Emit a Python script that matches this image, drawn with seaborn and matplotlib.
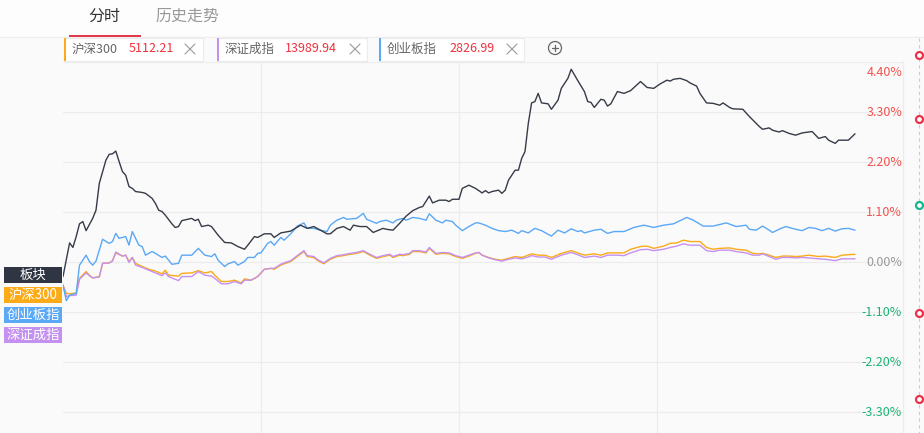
import numpy as np
import pandas as pd
import seaborn as sns
import matplotlib
matplotlib.use("Agg")
import matplotlib.pyplot as plt
from matplotlib.patches import Rectangle, Circle

# ---------------- data (minutes from open, % change) ----------------
board_t = [0, 2, 3, 4, 5, 6, 7, 9, 10, 11,
           13, 14, 15, 16, 17, 18, 19, 20, 21, 22,
           24, 25, 27, 28, 29, 30, 31, 33, 34, 35,
           36, 39, 40, 41, 42, 44, 45, 47, 49, 51,
           53, 55, 56, 58, 59, 61, 63, 64, 66, 69,
           72, 74, 76, 78, 80, 81, 83, 85, 87, 88,
           90, 92, 94, 97, 98, 100, 102, 104, 106, 108,
           109, 111, 112, 114, 116, 117, 118, 120, 121, 123,
           125, 127, 128, 129, 130, 132, 133, 134, 135, 137,
           138, 139, 140, 141, 142, 143, 144, 145, 147, 148,
           150, 151, 153, 154, 156, 158, 159, 160, 161, 163,
           164, 165, 166, 168, 170, 172, 175, 177, 179, 181,
           183, 184, 185, 187, 189, 190, 192, 193, 195, 197,
           199, 200, 202, 203, 206, 208, 211, 212, 214, 215,
           217, 218, 220, 222, 224, 227, 229, 231, 232, 234,
           235, 238, 240]
board_v = [-0.32, 0.42, 0.32, 0.56, 0.84, 0.89, 0.69, 0.96, 1.14, 1.73,
           2.24, 2.37, 2.38, 2.44, 2.21, 1.99, 1.91, 1.66, 1.62, 1.55,
           1.53, 1.51, 1.40, 1.29, 1.14, 1.11, 1.03, 0.84, 0.76, 0.78,
           0.91, 0.96, 0.91, 0.94, 0.78, 0.81, 0.78, 0.59, 0.43, 0.42,
           0.34, 0.28, 0.37, 0.56, 0.54, 0.62, 0.62, 0.54, 0.64, 0.68,
           0.81, 0.74, 0.78, 0.70, 0.62, 0.62, 0.74, 0.78, 0.70, 0.81,
           0.78, 0.78, 0.65, 0.74, 0.72, 0.70, 0.85, 1.01, 1.13, 1.20,
           1.22, 1.45, 1.30, 1.36, 1.36, 1.33, 1.38, 1.38, 1.62, 1.69,
           1.62, 1.52, 1.57, 1.52, 1.55, 1.58, 1.51, 1.58, 1.80, 2.02,
           2.02, 2.28, 2.43, 3.05, 3.50, 3.53, 3.71, 3.50, 3.48, 3.36,
           3.56, 3.82, 4.04, 4.24, 3.99, 3.75, 3.53, 3.51, 3.40, 3.58,
           3.56, 3.43, 3.48, 3.75, 3.71, 3.77, 3.97, 3.84, 3.82, 3.92,
           4.00, 3.98, 4.02, 4.04, 3.99, 3.94, 3.87, 3.71, 3.50, 3.49,
           3.45, 3.50, 3.40, 3.37, 3.36, 3.20, 2.98, 2.92, 2.95, 2.90,
           2.86, 2.89, 2.83, 2.79, 2.84, 2.87, 2.72, 2.76, 2.68, 2.61,
           2.68, 2.68, 2.82]

cyb_t = [0, 1, 2, 4, 5, 7, 8, 9, 10, 12,
         14, 15, 16, 17, 19, 20, 21, 23, 24, 25,
         27, 28, 30, 31, 32, 33, 35, 36, 39, 41,
         43, 45, 46, 47, 49, 50, 52, 53, 55, 56,
         58, 59, 60, 62, 63, 64, 66, 67, 69, 71,
         73, 74, 76, 78, 80, 81, 83, 85, 86, 89,
         91, 92, 94, 95, 96, 98, 100, 101, 103, 104,
         106, 108, 110, 111, 113, 115, 116, 118, 119, 121,
         123, 125, 126, 128, 130, 132, 134, 136, 138, 139,
         141, 143, 145, 148, 150, 152, 154, 156, 157, 158,
         161, 163, 165, 167, 170, 173, 176, 179, 182, 185,
         189, 191, 194, 197, 201, 204, 207, 208, 210, 212,
         214, 215, 217, 219, 222, 224, 226, 228, 230, 232,
         234, 236, 238, 240]
cyb_v = [-0.51, -0.85, -0.73, -0.69, -0.07, 0.15, 0.01, -0.07, 0.02, 0.50,
         0.41, 0.45, 0.63, 0.52, 0.56, 0.37, 0.67, 0.37, 0.34, 0.15,
         0.23, 0.19, 0.10, 0.13, 0.04, -0.05, -0.03, 0.15, 0.15, 0.30,
         0.15, 0.12, 0.18, 0.04, -0.10, -0.04, 0.01, -0.07, 0.01, 0.10,
         0.10, 0.19, 0.20, 0.41, 0.45, 0.37, 0.54, 0.48, 0.62, 0.79,
         0.86, 0.74, 0.74, 0.70, 0.67, 0.81, 0.92, 0.98, 0.94, 0.96,
         1.07, 0.94, 0.88, 0.85, 0.89, 0.92, 0.86, 0.92, 0.96, 0.92,
         0.98, 0.96, 0.92, 1.06, 0.92, 0.86, 0.92, 0.89, 0.81, 0.69,
         0.78, 0.86, 0.86, 0.81, 0.74, 0.69, 0.67, 0.70, 0.63, 0.69,
         0.64, 0.74, 0.69, 0.57, 0.70, 0.64, 0.73, 0.67, 0.69, 0.64,
         0.70, 0.72, 0.63, 0.67, 0.67, 0.76, 0.81, 0.76, 0.81, 0.84,
         0.98, 0.92, 0.79, 0.79, 0.86, 0.78, 0.81, 0.72, 0.70, 0.79,
         0.70, 0.65, 0.72, 0.78, 0.72, 0.69, 0.76, 0.74, 0.69, 0.74,
         0.68, 0.73, 0.74, 0.70]

idx_t = [0, 1, 2, 4, 5, 7, 8, 9, 11, 12,
         14, 15, 16, 18, 19, 20, 21, 22, 24, 26,
         28, 30, 31, 32, 35, 36, 39, 41, 43, 45,
         46, 48, 50, 52, 54, 55, 57, 59, 61, 63,
         64, 66, 67, 69, 71, 73, 74, 76, 77, 79,
         81, 83, 85, 87, 89, 91, 93, 95, 97, 99,
         100, 102, 103, 105, 106, 108, 110, 111, 113, 115,
         117, 119, 121, 123, 125, 126, 127, 129, 131, 133,
         135, 137, 139, 141, 142, 144, 146, 148, 151, 154,
         156, 158, 161, 163, 165, 168, 170, 172, 175, 177,
         179, 182, 184, 186, 188, 190, 193, 195, 197, 199,
         202, 204, 207, 209, 211, 212, 214, 216, 218, 220,
         222, 224, 226, 229, 231, 234, 236, 240]
hs300_v = [-0.51, -0.69, -0.70, -0.68, -0.36, -0.21, -0.29, -0.35, -0.32, -0.03,
           -0.02, 0.03, 0.20, 0.13, 0.15, 0.01, 0.10, -0.03, -0.10, -0.16,
           -0.20, -0.26, -0.18, -0.29, -0.31, -0.25, -0.24, -0.19, -0.24, -0.21,
           -0.29, -0.43, -0.43, -0.40, -0.46, -0.37, -0.40, -0.32, -0.16, -0.14,
           -0.16, -0.07, -0.04, 0.01, 0.12, 0.23, 0.12, 0.10, 0.04, -0.04,
           0.06, 0.12, 0.14, 0.17, 0.19, 0.23, 0.15, 0.08, 0.12, 0.15,
           0.10, 0.15, 0.14, 0.17, 0.23, 0.23, 0.20, 0.30, 0.17, 0.19,
           0.18, 0.12, 0.08, 0.13, 0.19, 0.21, 0.15, 0.10, 0.06, 0.04,
           0.08, 0.12, 0.10, 0.15, 0.18, 0.15, 0.15, 0.10, 0.19, 0.25,
           0.20, 0.15, 0.18, 0.15, 0.20, 0.20, 0.20, 0.28, 0.34, 0.35,
           0.30, 0.35, 0.41, 0.42, 0.48, 0.45, 0.45, 0.32, 0.28, 0.30,
           0.31, 0.28, 0.26, 0.19, 0.18, 0.19, 0.15, 0.10, 0.13, 0.13,
           0.12, 0.13, 0.15, 0.12, 0.13, 0.10, 0.15, 0.17]
szcz_v = [-0.51, -0.76, -0.74, -0.73, -0.38, -0.24, -0.30, -0.35, -0.33, -0.03,
          -0.02, 0.02, 0.22, 0.13, 0.15, -0.01, 0.10, -0.07, -0.12, -0.18,
          -0.24, -0.30, -0.24, -0.32, -0.41, -0.32, -0.32, -0.21, -0.29, -0.31,
          -0.36, -0.48, -0.48, -0.43, -0.48, -0.40, -0.40, -0.32, -0.16, -0.14,
          -0.14, -0.05, -0.02, 0.03, 0.14, 0.25, 0.14, 0.12, 0.06, -0.02,
          0.08, 0.14, 0.16, 0.19, 0.21, 0.25, 0.17, 0.10, 0.14, 0.17,
          0.12, 0.17, 0.16, 0.19, 0.25, 0.25, 0.22, 0.32, 0.19, 0.21,
          0.20, 0.14, 0.10, 0.15, 0.20, 0.21, 0.15, 0.09, 0.05, 0.02,
          0.06, 0.09, 0.07, 0.11, 0.14, 0.11, 0.11, 0.06, 0.15, 0.21,
          0.16, 0.10, 0.13, 0.10, 0.15, 0.15, 0.14, 0.20, 0.27, 0.28,
          0.25, 0.28, 0.32, 0.35, 0.40, 0.37, 0.37, 0.25, 0.23, 0.26,
          0.26, 0.23, 0.20, 0.15, 0.15, 0.18, 0.12, 0.06, 0.10, 0.10,
          0.09, 0.10, 0.09, 0.07, 0.06, 0.03, 0.07, 0.07]

series_names = ["沪深300", "深证成指", "创业板指", "板块"]
series_colors = ["#fbab17", "#c591f0", "#5aa8f6", "#363b47"]
legend_values = ["5112.21", "13989.94", "2826.99"]
legend_names = ["沪深300", "深证成指", "创业板指"]
legend_colors = ["#fbab17", "#c591f0", "#5aa8f6"]
side_labels = ["板块", "沪深300", "创业板指", "深证成指"]
side_colors = ["#2f3542", "#fbab17", "#5aa8f6", "#c591f0"]
tab_labels = ["分时", "历史走势"]
y_ticks = [4.4, 3.3, 2.2, 1.1, 0.0, -1.1, -2.2, -3.3]
y_labels = ["4.40%", "3.30%", "2.20%", "1.10%", "0.00%", "-1.10%", "-2.20%", "-3.30%"]

assert len(board_t) == len(board_v)
assert len(cyb_t) == len(cyb_v)
assert len(idx_t) == len(hs300_v) == len(szcz_v)

df = pd.concat([
    pd.DataFrame({"t": idx_t, "v": hs300_v, "s": "沪深300"}),
    pd.DataFrame({"t": idx_t, "v": szcz_v, "s": "深证成指"}),
    pd.DataFrame({"t": cyb_t, "v": cyb_v, "s": "创业板指"}),
    pd.DataFrame({"t": board_t, "v": board_v, "s": "板块"}),
], ignore_index=True)

# ---------------- style ----------------
sns.set_theme(style="white")
plt.rcParams["font.family"] = ["Noto Sans CJK SC", "DejaVu Sans"]
BG = "#fafafa"

W, H = 924, 433
fig = plt.figure(figsize=(W / 100, H / 100), dpi=100, facecolor=BG)

# main axes: x pixels 63..903, y pixels 62..433
ax = fig.add_axes([63 / W, 0, 840 / W, 371 / H], facecolor=BG)
sns.lineplot(data=df, x="t", y="v", hue="s", hue_order=series_names,
             palette=dict(zip(series_names, series_colors)),
             estimator=None, sort=False, linewidth=1.0, legend=False, ax=ax)

ax.set_xlim(0, 240 * 840 / 792)
ax.set_ylim(4.4 - 371 / 50 * 1.1, 4.4)
ax.set_xticks([60, 120, 180])
ax.set_xticklabels([])
ax.set_yticks(y_ticks)
ax.set_yticklabels([])
ax.tick_params(length=0)
ax.grid(True, color="#ececec", linewidth=0.9)
ax.set_xlabel("")
ax.set_ylabel("")
for side in ["left", "top", "bottom"]:
    ax.spines[side].set_visible(False)
ax.spines["right"].set_color("#ececec")
ax.spines["right"].set_linewidth(0.9)

ytr = ax.get_yaxis_transform()
for val, lab in zip(y_ticks, y_labels):
    if val > 0:
        col = "#f2534d"
    elif val < 0:
        col = "#1bb374"
    else:
        col = "#9a9a9a"
    if val == y_ticks[0]:
        ax.text(0.999, val - 0.24, lab, transform=ytr, ha="right", va="center",
                color=col, fontsize=9)
    else:
        ax.text(0.999, val, lab, transform=ytr, ha="right", va="center",
                color=col, fontsize=9)

# ---------------- overlay (UI decorations in pixel space) ----------------
ox = fig.add_axes([0, 0, 1, 1], facecolor="none")
ox.set_xlim(0, W)
ox.set_ylim(H, 0)
ox.axis("off")

# tab strip
ox.add_patch(Rectangle((0, 0), W, 36, facecolor="#fdfdfd", edgecolor="none", zorder=0))
ox.plot([0, W], [36.5, 36.5], color="#eeeeee", lw=0.8)
ox.text(104, 16, tab_labels[0], ha="center", va="center", fontsize=11.5, color="#333333")
ox.text(187, 16, tab_labels[1], ha="center", va="center", fontsize=11.5, color="#999999")
ox.add_patch(Rectangle((69, 34.5), 72, 2, facecolor="#e2354a", edgecolor="none"))

# legend chips
chip_x = [64, 217, 379]
chip_w = [139, 150, 145]
val_x = [129, 285, 449]
x_x = [190, 355, 512]
for cx, cw, name, val, col, vx, xx in zip(chip_x, chip_w, legend_names, legend_values,
                                          legend_colors, val_x, x_x):
    ox.add_patch(Rectangle((cx, 37.5), cw, 23, facecolor="white", edgecolor="#ebebeb", lw=0.8))
    ox.add_patch(Rectangle((cx, 37.5), 2, 23, facecolor=col, edgecolor="none"))
    ox.text(cx + 8, 49, name, ha="left", va="center", fontsize=9, color="#666666")
    ox.text(vx, 49, val, ha="left", va="center", fontsize=9, color="#f0323c")
    ox.plot([xx - 5, xx + 5], [44, 54], color="#9a9a9a", lw=0.8)
    ox.plot([xx - 5, xx + 5], [54, 44], color="#9a9a9a", lw=0.8)

# plus circle
ox.add_patch(Circle((555, 48), 6.5, facecolor="none", edgecolor="#666666", lw=0.9))
ox.plot([552, 558], [48, 48], color="#666666", lw=0.9)
ox.plot([555, 555], [45, 51], color="#666666", lw=0.9)

# left series tags
tag_y = [267, 287, 307, 327]
for ty, lab, col in zip(tag_y, side_labels, side_colors):
    ox.add_patch(Rectangle((4, ty), 58, 16, facecolor=col, edgecolor="none"))
    ox.text(33, ty + 8.3, lab, ha="center", va="center", fontsize=9.6, color="white")

# right dashed rail with markers
ox.plot([919, 919], [38, H], color="#cccccc", lw=0.8, ls=(0, (3, 3)))
rail_y = [55, 119, 205, 313, 399]
rail_c = ["#e8334a", "#e8334a", "#1bb38f", "#e8334a", "#e8334a"]
for ry, rc in zip(rail_y, rail_c):
    ox.plot([919], [ry], marker="o", ms=5, mfc="white", mec=rc, mew=1.6)

fig.savefig("out.png", dpi=100, facecolor=BG)
